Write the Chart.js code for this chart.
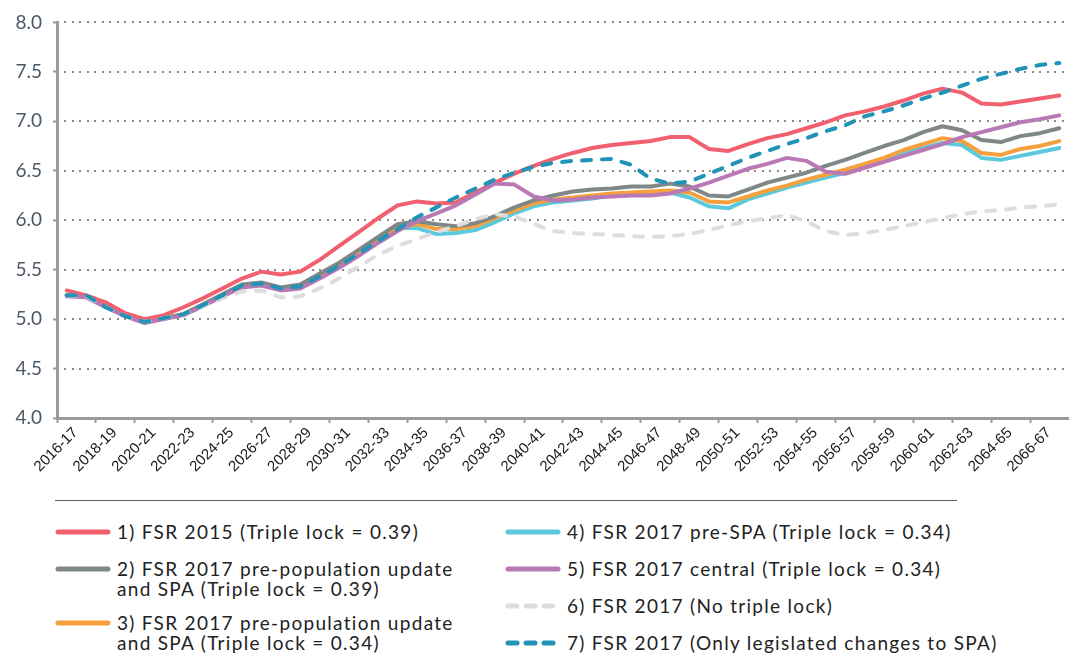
<!DOCTYPE html>
<html>
<head>
<meta charset="utf-8">
<script src="https://cdn.jsdelivr.net/npm/chart.js@4.4.0/dist/chart.umd.min.js"></script>
<style>
    body {
        margin: 0;
        background: #fff;
        width: 1073px;
        height: 658px;
        overflow: hidden;
        position: relative;
        font-family: Lato, "Noto Sans", sans-serif;
    }
    #wrap {
        position: absolute;
        left: 0;
        top: 0;
        width: 1073px;
        height: 500px;
    }
    #rule {
        position: absolute;
        left: 55px;
        top: 500px;
        width: 902px;
        border-top: 1.5px solid #59606a;
    }
    .item {
        position: absolute;
        font-size: 19px;
        line-height: 20.5px;
        letter-spacing: 1.3px;
        color: #222;
        white-space: nowrap;
    }
    .item svg {
        position: absolute;
        left: -64px;
        top: 4px;
    }
</style>
</head>
<body>
<div id="wrap"><canvas id="pension-chart"></canvas></div>
<div id="rule"></div>
<div id="legend"></div>
<script>
const years = [
    "2016-17", "2017-18", "2018-19", "2019-20", "2020-21", "2021-22", "2022-23", "2023-24",
    "2024-25", "2025-26", "2026-27", "2027-28", "2028-29", "2029-30", "2030-31", "2031-32",
    "2032-33", "2033-34", "2034-35", "2035-36", "2036-37", "2037-38", "2038-39", "2039-40",
    "2040-41", "2041-42", "2042-43", "2043-44", "2044-45", "2045-46", "2046-47", "2047-48",
    "2048-49", "2049-50", "2050-51", "2051-52", "2052-53", "2053-54", "2054-55", "2055-56",
    "2056-57", "2057-58", "2058-59", "2059-60", "2060-61", "2061-62", "2062-63", "2063-64",
    "2064-65", "2065-66", "2066-67", "2067-68"
];

const fsr2015 = [
    5.29, 5.24, 5.17, 5.06, 5.00, 5.04, 5.12, 5.21, 5.31, 5.41,
    5.48, 5.45, 5.48, 5.60, 5.74, 5.88, 6.02, 6.15, 6.19, 6.17,
    6.18, 6.28, 6.38, 6.47, 6.55, 6.62, 6.68, 6.73, 6.76, 6.78,
    6.80, 6.84, 6.84, 6.72, 6.70, 6.77, 6.83, 6.87, 6.93, 6.99,
    7.06, 7.10, 7.15, 7.21, 7.28, 7.33, 7.29, 7.18, 7.17, 7.20,
    7.23, 7.26
];
const prePop039 = [
    5.24, 5.23, 5.13, 5.04, 4.97, 5.01, 5.05, 5.15, 5.25, 5.35,
    5.37, 5.32, 5.35, 5.46, 5.57, 5.70, 5.83, 5.96, 5.99, 5.96,
    5.94, 5.97, 6.04, 6.13, 6.20, 6.25, 6.29, 6.31, 6.32, 6.34,
    6.34, 6.37, 6.34, 6.25, 6.24, 6.31, 6.38, 6.43, 6.48, 6.55,
    6.61, 6.68, 6.75, 6.81, 6.89, 6.95, 6.91, 6.81, 6.79, 6.85,
    6.88, 6.93
];
const prePop034 = [
    5.24, 5.23, 5.13, 5.04, 4.97, 5.01, 5.05, 5.14, 5.24, 5.34,
    5.36, 5.31, 5.34, 5.44, 5.55, 5.68, 5.80, 5.93, 5.96, 5.91,
    5.91, 5.94, 6.02, 6.10, 6.17, 6.21, 6.23, 6.25, 6.27, 6.28,
    6.29, 6.30, 6.28, 6.19, 6.18, 6.24, 6.30, 6.35, 6.41, 6.46,
    6.51, 6.57, 6.63, 6.71, 6.77, 6.83, 6.80, 6.68, 6.66, 6.72,
    6.75, 6.80
];
const preSpa = [
    5.24, 5.23, 5.13, 5.04, 4.97, 5.01, 5.05, 5.14, 5.24, 5.33,
    5.35, 5.30, 5.33, 5.43, 5.54, 5.67, 5.79, 5.92, 5.92, 5.86,
    5.87, 5.90, 5.98, 6.07, 6.14, 6.18, 6.20, 6.22, 6.25, 6.26,
    6.27, 6.28, 6.23, 6.14, 6.12, 6.21, 6.27, 6.33, 6.38, 6.43,
    6.48, 6.54, 6.60, 6.67, 6.73, 6.78, 6.76, 6.63, 6.61, 6.65,
    6.69, 6.73
];
const central = [
    5.23, 5.22, 5.12, 5.03, 4.96, 5.00, 5.04, 5.13, 5.23, 5.32,
    5.34, 5.29, 5.31, 5.41, 5.52, 5.64, 5.77, 5.89, 5.99, 6.07,
    6.15, 6.26, 6.37, 6.36, 6.24, 6.20, 6.21, 6.23, 6.24, 6.25,
    6.25, 6.27, 6.32, 6.38, 6.45, 6.52, 6.57, 6.63, 6.60, 6.49,
    6.47, 6.53, 6.59, 6.65, 6.71, 6.77, 6.84, 6.89, 6.94, 6.99,
    7.02, 7.06
];
const noTripleLock = [
    5.24, 5.23, 5.12, 5.03, 4.97, 5.01, 5.05, 5.13, 5.21, 5.28,
    5.29, 5.22, 5.23, 5.31, 5.41, 5.53, 5.65, 5.74, 5.81, 5.88,
    5.94, 6.01, 6.06, 6.04, 5.96, 5.89, 5.87, 5.86, 5.85, 5.84,
    5.83, 5.84, 5.86, 5.90, 5.95, 5.99, 6.02, 6.05, 5.99, 5.89,
    5.85, 5.87, 5.90, 5.94, 5.98, 6.02, 6.06, 6.09, 6.10, 6.13,
    6.14, 6.16
];
const legislatedSpa = [
    5.24, 5.24, 5.12, 5.03, 4.97, 5.01, 5.05, 5.14, 5.24, 5.34,
    5.36, 5.31, 5.33, 5.43, 5.54, 5.66, 5.79, 5.91, 6.03, 6.13,
    6.23, 6.32, 6.41, 6.48, 6.54, 6.58, 6.60, 6.61, 6.62, 6.56,
    6.42, 6.37, 6.39, 6.47, 6.55, 6.63, 6.70, 6.77, 6.83, 6.90,
    6.96, 7.05, 7.10, 7.16, 7.23, 7.29, 7.36, 7.43, 7.48, 7.53,
    7.57, 7.59
];

const seriesLabels = [
    "1) FSR 2015 (Triple lock = 0.39)",
    "2) FSR 2017 pre-population update\nand SPA (Triple lock = 0.39)",
    "3) FSR 2017 pre-population update\nand SPA (Triple lock = 0.34)",
    "4) FSR 2017 pre-SPA (Triple lock = 0.34)",
    "5) FSR 2017 central (Triple lock = 0.34)",
    "6) FSR 2017 (No triple lock)",
    "7) FSR 2017 (Only legislated changes to SPA)"
];
const yTicks = [4.0, 4.5, 5.0, 5.5, 6.0, 6.5, 7.0, 7.5, 8.0];

const seriesData = [fsr2015, prePop039, prePop034, preSpa, central, noTripleLock, legislatedSpa];
const colors = ["#f0606e", "#7f8886", "#f5a03c", "#5bc8dc", "#b879b5", "#dcdddc", "#2193b6"];
const dashes = [[], [], [], [], [], [9, 11], [9, 11]];
const drawOrder = [3, 4, 5, 6, 2, 1, 0]; // lower draws on top

const datasets = seriesData.map((d, i) => ({
    label: seriesLabels[i],
    data: d,
    borderColor: colors[i],
    backgroundColor: colors[i],
    borderWidth: 4,
    borderDash: dashes[i],
    borderCapStyle: "round",
    borderJoinStyle: "round",
    pointRadius: 0,
    tension: 0,
    fill: false,
    order: drawOrder[i],
}));

// dotted horizontal grid: small square dots along each y tick (not on the axis)
const dottedGrid = {
    id: "dottedGrid",
    beforeDatasetsDraw(chart) {
        const { ctx, chartArea, scales } = chart;
        ctx.save();
        ctx.fillStyle = "#8a8a8a";
        scales.y.ticks.forEach((t) => {
            if (t.value <= scales.y.min) return;
            const y = Math.round(scales.y.getPixelForValue(t.value)) - 1;
            for (let x = chartArea.left + 7; x < chartArea.right; x += 7.5) {
                ctx.fillRect(Math.round(x), y, 2, 2);
            }
        });
        ctx.restore();
    },
};

const ctx = document.getElementById("pension-chart").getContext("2d");
const myChart = new Chart(ctx, {
    type: "line",
    data: { labels: years, datasets },
    plugins: [dottedGrid],
    options: {
        responsive: true,
        maintainAspectRatio: false,
        animation: false,
        layout: { padding: { top: 16, right: 1, left: 0, bottom: 0 } },
        plugins: {
            legend: { display: false },
            tooltip: { enabled: false },
        },
        scales: {
            x: {
                offset: true,
                grid: {
                    offset: true,
                    drawOnChartArea: false,
                    drawTicks: true,
                    tickLength: 5,
                    tickWidth: 2,
                    color: (c) => (c.index % 2 === 0 ? "#9a9a9a" : "transparent"),
                },
                border: { color: "#9a9a9a", width: 3 },
                ticks: {
                    autoSkip: false,
                    minRotation: 45,
                    maxRotation: 45,
                    padding: 1,
                    labelOffset: 9,
                    color: "#1a1a1a",
                    font: { family: "'Liberation Sans', Arial, sans-serif", size: 15 },
                    callback: function (val, idx) {
                        return idx % 2 === 0 ? this.getLabelForValue(val) : "";
                    },
                },
                afterFit: (scale) => {
                    scale.height = 82;
                },
            },
            y: {
                min: 4,
                max: 8,
                afterBuildTicks: (scale) => {
                    scale.ticks = yTicks.map((v) => ({ value: v }));
                },
                grid: {
                    display: true,
                    drawOnChartArea: false,
                    drawTicks: true,
                    tickLength: 4,
                    color: "#9a9a9a",
                    tickColor: "#9a9a9a",
                    tickWidth: 2,
                },
                border: { color: "#9a9a9a", width: 3 },
                ticks: {
                    padding: 11,
                    color: "#4b5866",
                    font: { family: "Lato, 'Noto Sans', sans-serif", size: 19 },
                    callback: (v) => Number(v).toFixed(1),
                },
                afterFit: (scale) => {
                    scale.width = 57;
                },
            },
        },
    },
});

// html legend, two columns like the original
const legendSlots = [
    { x: 117, y: 532 }, { x: 117, y: 569 }, { x: 117, y: 623 },
    { x: 567, y: 532 }, { x: 567, y: 569 }, { x: 567, y: 606 }, { x: 567, y: 643 }
];
const legend = document.getElementById("legend");
datasets.forEach((ds, i) => {
    const item = document.createElement("div");
    item.className = "item";
    item.style.left = legendSlots[i].x + "px";
    item.style.top = legendSlots[i].y - 10.25 + "px";
    const dash = ds.borderDash.length ? `stroke-dasharray="9 9"` : "";
    item.innerHTML =
        `<svg width="60" height="12"><line x1="5" y1="6" x2="55" y2="6" stroke="${ds.borderColor}" stroke-width="5" stroke-linecap="round" ${dash}/></svg>` +
        ds.label.replace("\n", "<br>");
    legend.appendChild(item);
});
</script>
</body>
</html>
